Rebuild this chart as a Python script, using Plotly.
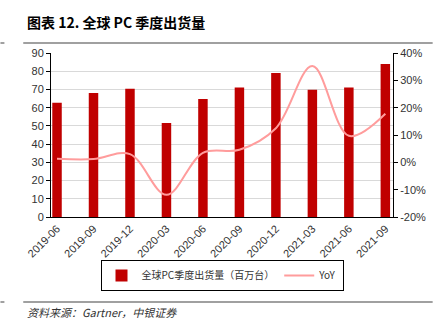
import plotly.graph_objects as go

categories = ["2019-06", "2019-09", "2019-12", "2020-03", "2020-06",
              "2020-09", "2020-12", "2021-03", "2021-06", "2021-09"]
shipments = [62.7, 68.0, 70.4, 51.6, 64.8, 71.1, 79.0, 69.9, 71.1, 84.0]
yoy = [1.3, 1.2, 3.0, -11.9, 3.5, 4.6, 12.5, 35.2, 9.7, 17.8]
left_ticks = list(range(0, 91, 10))
right_ticks = list(range(-20, 41, 10))
right_ticklabels = [f"{v}%" for v in right_ticks]

xs = list(range(len(categories)))

fig = go.Figure()
fig.add_trace(go.Bar(
    x=xs, y=shipments, name="全球PC季度出货量（百万台）",
    marker=dict(color="#C00000", line=dict(width=0)), width=0.26,
))
fig.add_trace(go.Scatter(
    x=xs, y=yoy, name="YoY", yaxis="y2", mode="lines",
    line=dict(color="#FF9C9C", width=2, shape="spline", smoothing=1.0),
))

tickfont = dict(family="Liberation Sans Narrow, Arial Narrow, Liberation Sans, Arial", size=11, color="#333333")

fig.update_layout(
    width=438, height=331,
    margin=dict(l=51, r=42, t=53, b=114),
    paper_bgcolor="white", plot_bgcolor="white",
    showlegend=True,
    legend=dict(orientation="h", x=0.5, xanchor="center", y=-0.262, yanchor="top",
                bordercolor="#000000", borderwidth=1,
                font=dict(family="Noto Sans CJK SC", size=10, color="#333333"),
                itemwidth=30, tracegroupgap=0),
    xaxis=dict(
        tickmode="array", tickvals=xs, ticktext=categories, tickangle=-45,
        range=[-0.165, 9.21], showline=True, linecolor="#000000", linewidth=1,
        ticks="", showgrid=False, zeroline=False, tickfont=tickfont,
    ),
    yaxis=dict(
        range=[0, 90], tickvals=left_ticks, showline=True, linecolor="#000000",
        linewidth=1, ticks="outside", ticklen=4, tickcolor="#000000",
        showgrid=True, gridcolor="#D9D9D9", gridwidth=1, zeroline=False,
        tickfont=tickfont,
    ),
    yaxis2=dict(
        range=[-20, 40], tickvals=right_ticks, ticktext=right_ticklabels,
        overlaying="y", side="right", showline=True, linecolor="#000000",
        linewidth=1, ticks="outside", ticklen=4, tickcolor="#000000",
        showgrid=False, zeroline=False, tickfont=tickfont,
    ),
)

fig.add_annotation(
    text="<b>图表 12. 全球 PC 季度出货量</b>", xref="paper", yref="paper",
    x=(25 - 51) / 345, y=1 + (53 - 22) / 164, xanchor="left", yanchor="middle",
    showarrow=False, font=dict(family="Noto Sans CJK SC", size=14, color="#000000"),
)
fig.add_annotation(
    text="<i>资料来源：Gartner，中银证券</i>", xref="paper", yref="paper",
    x=(25 - 51) / 345, y=-(312 - 217) / 164, xanchor="left", yanchor="middle",
    showarrow=False, font=dict(family="Noto Sans CJK SC", size=11, color="#333333"),
)

def hline(x0, x1, y, color="#808080", w=1.5):
    fig.add_shape(type="line", xref="paper", yref="paper",
                  x0=(x0 - 51) / 345, x1=(x1 - 51) / 345,
                  y0=(217 - y) / 164, y1=(217 - y) / 164,
                  line=dict(color=color, width=w))

hline(23, 436, 43)
hline(0, 4, 43)
hline(23, 436, 302)
hline(0, 4, 302)

fig.write_html("out.html")
